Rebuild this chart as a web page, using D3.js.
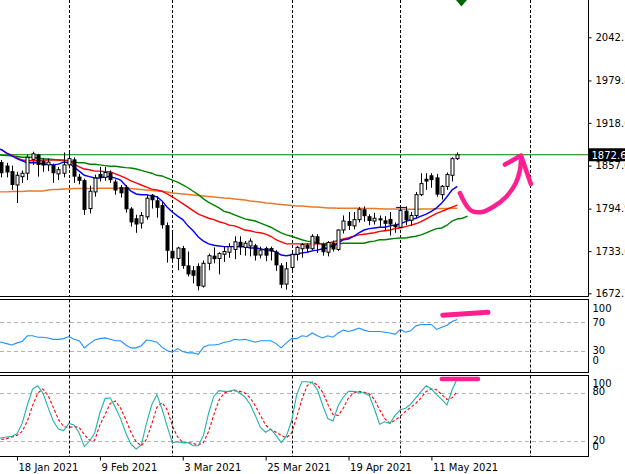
<!DOCTYPE html>
<html><head><meta charset="utf-8">
<script src="https://cdn.jsdelivr.net/npm/d3@7"></script>
<style>html,body{margin:0;padding:0;background:#fff;overflow:hidden}</style>
</head><body>
<svg id="c" width="625" height="474"></svg>
<script>
// ---------- DATA (daily XAUUSD, bar index 0 = 18 Jan 2021) ----------
const firstBar = -4;
const opens  = [1852,1862,1857,1849,1829,1841,1846,1866,1873,1864, 1858,1858,1845,1846,1858,1866,1841,1836,1795,1819,
                1845,1840,1847,1834,1826,1826,1795,1781,1774,1783, 1815,1807,1800,1771,1734,1723,1738,1713,1706,1712,
                1683,1716,1727,1723,1729,1732,1736,1747,1739,1741, 1742,1728,1738,1738,1733,1713,1686,1710,1729,1737,
                1743,1737,1755,1744,1732,1746,1736,1764,1777,1770, 1779,1794,1784,1777,1781,1778,1780,1772,1768,1792,
                1778,1785,1815,1838,1843,1840,1815,1827,1843,1867];
const highs  = [1866,1865,1861,1857,1848,1850,1873,1877,1874,1868, 1867,1860,1855,1876,1876,1869,1845,1838,1828,1844,
                1855,1855,1850,1837,1829,1829,1797,1786,1790,1815, 1816,1813,1804,1775,1760,1740,1741,1733,1712,1716,
                1720,1730,1739,1732,1740,1745,1755,1755,1748,1752, 1744,1740,1740,1740,1735,1716,1718,1733,1741,1745,
                1745,1758,1758,1746,1748,1749,1765,1785,1790,1790, 1797,1798,1787,1789,1785,1784,1790,1775,1799,1798,
                1790,1819,1846,1846,1846,1845,1829,1847,1869,1876];
const lows   = [1840,1840,1840,1822,1803,1832,1836,1858,1841,1848, 1849,1832,1836,1840,1853,1832,1830,1786,1788,1812,
                1834,1835,1832,1815,1811,1789,1769,1760,1766,1779, 1795,1782,1766,1717,1717,1706,1708,1697,1687,1677,
                1681,1706,1716,1700,1718,1724,1722,1728,1727,1726, 1720,1723,1719,1720,1705,1680,1678,1704,1720,1724,
                1732,1735,1731,1727,1726,1733,1734,1759,1764,1765, 1775,1776,1771,1772,1769,1763,1756,1760,1767,1771,
                1770,1782,1813,1822,1825,1812,1808,1822,1834,1865];
const closes = [1862,1846,1847,1829,1843,1846,1869,1874,1858,1857, 1862,1846,1851,1858,1867,1841,1835,1793,1820,1839,
                1840,1847,1836,1821,1817,1794,1775,1772,1785,1810, 1807,1796,1771,1734,1723,1738,1712,1700,1698,1683,
                1716,1727,1722,1730,1733,1740,1747,1739,1745,1748, 1727,1735,1727,1733,1713,1685,1708,1729,1739,1743,
                1737,1755,1744,1732,1746,1736,1764,1777,1770,1779, 1794,1784,1777,1781,1778,1773,1772,1768,1792,1778,
                1785,1815,1831,1834,1836,1815,1827,1844,1867,1872.6];

const maBlue = [1882,1880,1875,1871,1867,1864,1861,1861,1861,1859, 1859,1858,1859,1862,1861,1855,1849,1843,1841,1839,
                1839,1841,1841,1839,1836,1828,1820,1816,1815,1815, 1813,1812,1806,1797,1790,1784,1779,1770,1763,1754,
                1748,1744,1742,1741,1740,1740,1740,1740,1740,1738, 1738,1737,1735,1735,1732,1728,1727,1728,1729,1731,
                1732,1734,1735,1737,1738,1741,1745,1750,1751,1755, 1760,1764,1766,1767,1768,1768,1770,1771,1773,1776,
                1779,1781,1784,1787,1791,1796,1803,1812,1822,1827];
const maRed  = [1881,1880,1875,1872,1868,1865,1864,1864,1864,1865, 1865,1865,1865,1865,1864,1859,1855,1852,1851,1849,
                1849,1848,1848,1845,1842,1839,1835,1832,1829,1826, 1823,1822,1820,1816,1812,1807,1802,1797,1792,1787,
                1784,1781,1779,1776,1774,1771,1770,1767,1764,1763, 1761,1760,1758,1755,1750,1747,1744,1744,1744,1744,
                1744,1744,1744,1744,1745,1747,1749,1751,1753,1755, 1757,1758,1759,1760,1762,1763,1764,1766,1767,1769,
                1771,1773,1776,1780,1784,1788,1791,1794,1797,1800];
const maGreen= [1874,1872,1871.5,1871,1870,1869,1869,1869,1868,1867, 1866.5,1866,1865,1864,1864,1862,1861,1861,1859,1859,
                1858,1857,1856,1856,1855,1854,1853.5,1852,1850,1848, 1846,1843,1842,1839,1836,1833,1829,1825,1820,1815,
                1809,1804,1800,1796,1791,1789,1786,1783,1780,1778.5, 1777,1774,1771,1768,1764,1760,1757,1755,1752.5,1750,
                1748,1747,1745,1744,1742,1742,1744,1745,1745,1745, 1745,1745,1747,1748,1750,1750,1751,1752,1752.5,1752.5,
                1754,1755,1757,1760,1763,1766,1767,1771,1777,1780, 1781,1784];
const maOrange=[1819,1819,1819,1819.6,1819.6,1819.6,1820.3,1820.3,1820.3,1820.3, 1821.8,1822.5,1822.5,1823.2,1823.2,1823.9,1823.9,1823.9,1823.9,1824.2,
                1824.2,1824.2,1824.2,1824.2,1824.2,1824.2,1823.9,1823.2,1822.5,1821.8, 1821,1820.3,1819.6,1818.9,1817.4,1816.7,1816,1815.3,1814.5,1813.8,
                1813.1,1812.4,1811.7,1811,1810.2,1809.8,1808.8,1808.1,1807.3,1805.9, 1805.2,1804.4,1803,1802.6,1801.6,1800.8,1800.1,1799.4,1798.7,1798.7,
                1798,1797.2,1797.2,1796.5,1795.8,1795.8,1795.4,1795.4,1795.4,1795.4, 1795.4,1795.1,1795.1,1795.1,1794.8,1794.3,1794.3,1794.3,1793.9,1793.9,
                1793.9,1793.9,1794.3,1794.3,1794.3,1794.8,1795.1,1795.1,1795.4,1795.4];

const rsi = [43,42,40,38,41,43,51,51,49,49, 48,46,46,47,50,46,44,34,40,45, 47,48,46,44,44,38,34,34,37,45,
             44,42,35,30,28,33,29,27,27,25, 35,38,38,39,42,43,46,45,46,44, 42,44,44,44,40,34,41,47,47,51,
             50,55,51,48,51,49,55,59,57,59, 62,59,57,57,57,56,55,53,60,56, 58,65,67,67,67,60,63,66,71,74];
const stochMain = [22,24,25,26,29,42,65,85,89,80, 62,45,35,33,42,40,30,13,20,30, 55,73,74,62,48,30,16,10,15,42,
                   65,78,60,38,18,19,18,18,14,14, 27,55,76,83,82,82,84,80,75,66, 52,37,31,35,27,18,26,45,78,94,
                   94,93,84,65,48,45,64,75,82,82, 81,80,77,60,41,44,42,52,59,61, 66,74,82,89,85,78,72,65,84,98];
const stochSignal = [22,22,23,25,27,32,45,64,80,85, 77,62,47,38,37,38,37,28,21,21, 40,53,67,70,61,47,31,19,14,22,
                     41,62,68,59,39,25,18,18,17,15, 18,32,53,71,80,82,83,82,80,74, 64,52,40,34,31,27,24,30,50,72,
                     89,94,90,81,66,53,52,61,74,80, 82,81,79,72,59,48,42,46,51,57, 62,67,74,82,85,84,78,72,74,82];

const priceTicks = [2042.1,1979.8,1918.6,1857.0,1794.9,1733.6,1672.7];
const hLineLevel = 1872.6;
const dateTickIdx = [0,16,32,48,64,80];
const dateTickLabels = ["18 Jan 2021","9 Feb 2021","3 Mar 2021","25 Mar 2021","19 Apr 2021","11 May 2021"];
const monthSeparators = [10,30,53,74,99];
const rsiLabels = [100,70,30,0], rsiLevels = [70,30];
const stLabels = [100,80,20,0], stLevels = [80,20];

// hand-drawn annotations (bar index, value)
const pinkArrow = [[85.5,1817.4],[86.7,1800.1],[87.8,1791.4],[89.8,1790],[91.9,1797.2],[94.4,1811.7],[96.3,1831.9],[97.1,1850.6],[97.3,1869.4]];
const pinkHead = [[94.2,1858.5],[97.3,1871.5],[99.2,1830.4]];
const pinkRsi = [[82.2,80],[90.9,84]];
const pinkSt = [[82,97.5],[89,97.5]];
const greenMarker = [85.8, 2095.9];
const blueSegment = [[73.2,1796.5],[75.3,1796.5]];

// ---------- LAYOUT ----------
const PR = 588.5;
const svg = d3.select('#c');
const x = d3.scaleLinear().domain([0,80]).range([17,431.4]);
const yMain = d3.scaleLinear().domain([1672.7,2042.1]).range([293.3,37.3]);
const yRsi = d3.scaleLinear().domain([0,100]).range([372,301]);
const ySt = d3.scaleLinear().domain([0,100]).range([457,377]);
const panels = {main:[0,296.5], rsi:[299.5,372.5], st:[375.5,456.5]};
const FONT = "DejaVu Sans";
const bars = d3.range(firstBar, firstBar + closes.length);
const cx = i => Math.round(x(i)) + 0.5;

const defs = svg.append('defs');
Object.entries(panels).forEach(([k,[t,b]])=>{
  defs.append('clipPath').attr('id','clip-'+k).append('rect')
    .attr('x',0).attr('y',t).attr('width',PR).attr('height',b-t);
});
svg.append('rect').attr('width',625).attr('height',474).attr('fill','#fff');

// separators (dashed verticals) in each panel
Object.entries(panels).forEach(([k,[t,b]])=>{
  svg.append('g').attr('clip-path',`url(#clip-${k})`).selectAll('line').data(monthSeparators).join('line')
    .attr('x1',d=>cx(d)).attr('x2',d=>cx(d)).attr('y1',t).attr('y2',b)
    .attr('stroke','#000').attr('stroke-width',1).attr('stroke-dasharray','3,2');
});

// ---------- MAIN PANEL ----------
const gm = svg.append('g').attr('clip-path','url(#clip-main)');
gm.append('line').attr('x1',0).attr('x2',PR).attr('y1',yMain(hLineLevel)).attr('y2',yMain(hLineLevel))
  .attr('stroke','#008000').attr('stroke-width',1.2);

const maLine = d3.line().x((d,i)=>x(firstBar+i)).y(d=>yMain(d));
[[maOrange,'#e8792b'],[maGreen,'#008000'],[maRed,'#ff0000'],[maBlue,'#0000ff']].forEach(([arr,col])=>{
  gm.append('path').attr('d',maLine(arr)).attr('fill','none').attr('stroke',col).attr('stroke-width',1.4);
});
gm.append('path').attr('d',d3.line().x(d=>x(d[0])).y(d=>yMain(d[1]))(blueSegment))
  .attr('stroke','#0000ff').attr('stroke-width',1.2).attr('fill','none');

const candles = gm.selectAll('g.c').data(bars).join('g');
candles.append('line')
  .attr('x1',(d)=>cx(d)).attr('x2',(d)=>cx(d))
  .attr('y1',(d,i)=>yMain(highs[i])).attr('y2',(d,i)=>yMain(lows[i]))
  .attr('stroke','#000').attr('stroke-width',1);
candles.append('rect')
  .attr('x',(d,i)=> closes[i]>=opens[i] ? cx(d)-1.5 : cx(d)-2)
  .attr('width',(d,i)=> closes[i]>=opens[i] ? 3 : 4)
  .attr('y',(d,i)=> yMain(Math.max(opens[i],closes[i])))
  .attr('height',(d,i)=> Math.max(1, yMain(Math.min(opens[i],closes[i])) - yMain(Math.max(opens[i],closes[i]))))
  .attr('fill',(d,i)=> closes[i]>=opens[i] ? '#fff' : '#000')
  .attr('stroke',(d,i)=> closes[i]>=opens[i] ? '#000' : 'none')
  .attr('stroke-width',1);

// green marker
const gmx = x(greenMarker[0]), gmy = yMain(greenMarker[1]);
gm.append('path').attr('d',`M${gmx-5.5},${gmy}L${gmx},${gmy-6.5}L${gmx+5.5},${gmy}L${gmx},${gmy+6.5}Z`).attr('fill','#006400');

// pink annotation
const pinkStyle = sel => sel.attr('fill','none').attr('stroke','#ff1f8e').attr('stroke-width',4.5)
  .attr('stroke-linecap','round').attr('stroke-linejoin','round');
const pl = d3.line().x(d=>x(d[0])).y(d=>yMain(d[1])).curve(d3.curveCatmullRom);
svg.append('path').attr('d',pl(pinkArrow)).call(pinkStyle);
svg.append('path').attr('d',d3.line().x(d=>x(d[0])).y(d=>yMain(d[1]))(pinkHead)).call(pinkStyle);

// main axis
svg.append('line').attr('x1',PR).attr('x2',PR).attr('y1',0).attr('y2',panels.main[1]).attr('stroke','#000');
svg.append('line').attr('x1',0).attr('x2',PR).attr('y1',panels.main[1]).attr('y2',panels.main[1]).attr('stroke','#000');
const ax = d3.axisRight(yMain).tickValues(priceTicks).tickSize(3).tickPadding(4).tickFormat(d=>d.toFixed(1));
const gax = svg.append('g').attr('transform',`translate(${PR},0)`).call(ax);
gax.select('.domain').remove();
gax.selectAll('text').attr('font-family',FONT).attr('font-size',10).attr('fill','#000');
gax.selectAll('line').attr('stroke','#000');

// current price label
const lastClose = closes[closes.length-1];
const py = yMain(lastClose);
svg.append('rect').attr('x',PR).attr('y',py-6.5).attr('width',625-PR).attr('height',13).attr('fill','#000');
svg.append('text').attr('x',PR+3).attr('y',py+4).attr('font-family',FONT).attr('font-size',10)
  .attr('fill','#fff').text(lastClose.toFixed(1));

// ---------- RSI / STOCH PANELS ----------
function subPanel(key, yS, levels, labels, series, nudge){
  const [t,b] = panels[key];
  const g = svg.append('g').attr('clip-path',`url(#clip-${key})`);
  g.selectAll('line.lv').data(levels).join('line')
    .attr('x1',0).attr('x2',PR).attr('y1',d=>Math.round(yS(d))+0.5).attr('y2',d=>Math.round(yS(d))+0.5)
    .attr('stroke','#b4b4b4').attr('stroke-dasharray','4,3').attr('stroke-width',1);
  series.forEach(([arr,col,dash])=>{
    g.append('path').attr('d',d3.line().x((d,i)=>x(firstBar+i)).y(d=>yS(d))(arr))
      .attr('fill','none').attr('stroke',col).attr('stroke-width',1.1)
      .attr('stroke-dasharray',dash||null);
  });
  svg.append('rect').attr('x',-1).attr('y',t).attr('width',PR+1).attr('height',b-t)
    .attr('fill','none').attr('stroke','#000').attr('stroke-width',1);
  const a = d3.axisRight(yS).tickValues(labels).tickSize(0).tickPadding(4);
  const ga = svg.append('g').attr('transform',`translate(${PR},0)`).call(a);
  ga.select('.domain').remove();
  ga.selectAll('text').attr('font-family',FONT).attr('font-size',10).attr('fill','#000')
    .attr('transform',d=>`translate(0,${nudge(d)})`);
  return g;
}
subPanel('rsi', yRsi, rsiLevels, rsiLabels, [[rsi,'#1e90ff']], d=> d===100?7.5 : d===0?-11.5 : 0);
subPanel('st', ySt, stLevels, stLabels, [[stochSignal,'#ff0000','3,2'],[stochMain,'#20b2aa']],
  d=> d===100?6.5 : d===0?-11 : d===80?-2 : -1);

svg.append('path').attr('d',d3.line().x(d=>x(d[0])).y(d=>yRsi(d[1]))(pinkRsi)).call(pinkStyle).attr('stroke-width',5);
svg.append('path').attr('d',d3.line().x(d=>x(d[0])).y(d=>ySt(d[1]))(pinkSt)).call(pinkStyle).attr('stroke-width',4.5);

// ---------- DATE AXIS ----------
const dax = d3.axisBottom(x).tickValues(dateTickIdx).tickSize(4).tickPadding(3)
  .tickFormat((d,i)=>dateTickLabels[i]);
const gd = svg.append('g').attr('transform',`translate(0,${panels.st[1]})`).call(dax);
gd.select('.domain').remove();
gd.selectAll('line').attr('stroke','#000');
gd.selectAll('text').attr('font-family',FONT).attr('font-size',10).attr('fill','#000')
  .attr('text-anchor','start').attr('dx',1);
</script>
</body></html>
